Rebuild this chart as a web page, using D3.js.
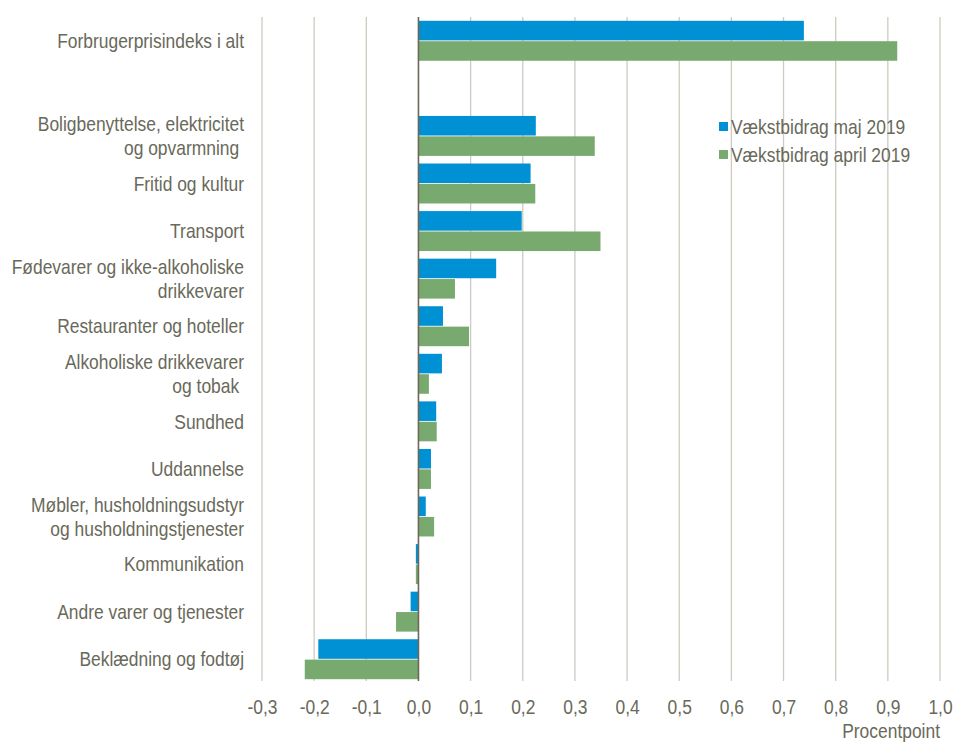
<!DOCTYPE html>
<html>
<head>
<meta charset="utf-8">
<script src="https://cdn.jsdelivr.net/npm/d3@7"></script>
<style>
  html, body { margin: 0; padding: 0; background: #ffffff; }
  svg text { font-family: "Liberation Sans", Arial, sans-serif; fill: #69695a; white-space: pre; }
</style>
</head>
<body>
<svg id="chart" width="955" height="742"></svg>
<script>
// Categories (top to bottom); "" is the empty spacer row
const categories = [
  "Forbrugerprisindeks i alt",
  "",
  "Boligbenyttelse, elektricitet\nog opvarmning ",
  "Fritid og kultur",
  "Transport",
  "Fødevarer og ikke-alkoholiske\ndrikkevarer",
  "Restauranter og hoteller",
  "Alkoholiske drikkevarer\nog tobak ",
  "Sundhed",
  "Uddannelse",
  "Møbler, husholdningsudstyr\nog husholdningstjenester",
  "Kommunikation",
  "Andre varer og tjenester",
  "Beklædning og fodtøj"
];
const seriesNames = ["Vækstbidrag maj 2019", "Vækstbidrag april 2019"];
const maj2019   = [0.739, null, 0.225, 0.215, 0.198, 0.149, 0.047, 0.045, 0.034, 0.024, 0.014, -0.005, -0.015, -0.192];
const april2019 = [0.918, null, 0.338, 0.224, 0.349, 0.070, 0.097, 0.020, 0.035, 0.024, 0.030, -0.005, -0.043, -0.218];
const tickValues = [-0.3, -0.2, -0.1, 0.0, 0.1, 0.2, 0.3, 0.4, 0.5, 0.6, 0.7, 0.8, 0.9, 1.0];
const axisTitle = "Procentpoint";
const colors = ["#0090d4", "#78aa70"];

const NARROW = 0.85; // emulate a narrow sans face
const FS = 20.5;

const svg = d3.select("#chart");
const x = d3.scaleLinear().domain([-0.3, 1.0]).range([262, 940]);
const y = d3.scaleBand().domain(d3.range(categories.length)).range([17, 683]).paddingInner(0.16).paddingOuter(0.08);
const sub = d3.scaleBand().domain([0, 1]).range([0, y.bandwidth()]).paddingInner(0.04);

// gridlines
svg.append("g").selectAll("line").data(tickValues.filter(v => Math.abs(v) > 1e-9)).join("line")
  .attr("x1", d => x(d)).attr("x2", d => x(d))
  .attr("y1", 17).attr("y2", 681)
  .attr("stroke", "#cdcbc0").attr("stroke-width", 1.3);

// bars
const series = [maj2019, april2019];
series.forEach((vals, si) => {
  svg.append("g").selectAll("rect")
    .data(vals.map((v, i) => ({ v, i })).filter(d => d.v !== null))
    .join("rect")
    .attr("x", d => x(Math.min(0, d.v)))
    .attr("width", d => Math.abs(x(d.v) - x(0)))
    .attr("y", d => y(d.i) + sub(si))
    .attr("height", sub.bandwidth())
    .attr("fill", colors[si]);
});

// zero axis
svg.append("line").attr("x1", x(0)).attr("x2", x(0)).attr("y1", 17).attr("y2", 681)
  .attr("stroke", "#6e6656").attr("stroke-width", 1.6);

// x axis tick labels
const xAxis = d3.axisBottom(x).tickValues(tickValues).tickSize(0).tickPadding(0)
  .tickFormat(d => d3.format(".1f")(d).replace(".", ",").replace("−", "-"));
const gx = svg.append("g").attr("transform", "translate(0,707)").call(xAxis);
gx.select(".domain").remove();
gx.selectAll("text").attr("font-size", FS).style("font-family", null)
  .attr("y", 0).attr("dy", "0.35em").attr("transform", `scale(${NARROW},1)`);

svg.append("g").attr("transform", `translate(940,737.5) scale(${NARROW},1)`)
  .append("text").attr("text-anchor", "end").attr("font-size", FS).text(axisTitle);

// category labels
categories.forEach((c, i) => {
  if (!c) return;
  const lines = c.split("\n");
  const cy = y(i) + y.bandwidth() / 2;
  const lh = 24;
  const g = svg.append("g").attr("transform", `translate(244,0) scale(${NARROW},1)`);
  const t = g.append("text").attr("text-anchor", "end").attr("font-size", FS);
  lines.forEach((ln, k) => {
    t.append("tspan").attr("x", 0)
      .attr("y", cy + (k - (lines.length - 1) / 2) * lh)
      .attr("dy", "0.35em").text(ln);
  });
});

// legend
const legend = svg.append("g");
seriesNames.forEach((n, i) => {
  const ly = 127 + i * 28;
  legend.append("rect").attr("x", 719).attr("y", ly - 5).attr("width", 9).attr("height", 9).attr("fill", colors[i]);
  legend.append("g").attr("transform", `translate(731,${ly}) scale(${NARROW},1)`)
    .append("text").attr("dy", "0.35em").attr("font-size", FS).text(n);
});
</script>
</body>
</html>
